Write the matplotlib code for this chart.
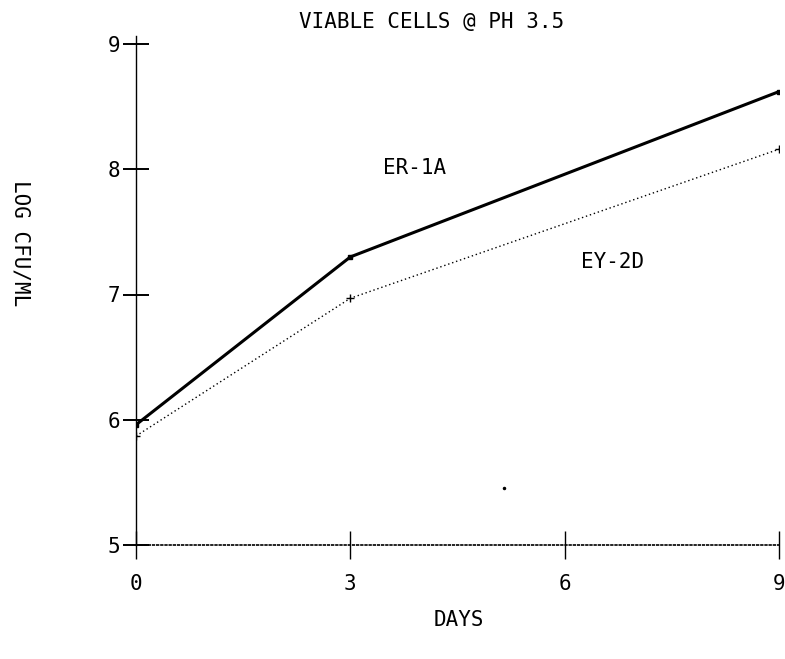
import numpy as np
import matplotlib
matplotlib.use('Agg')
import matplotlib.pyplot as plt


# --------------------------------- #

days = [0, 3, 9]
er_1a = [5.96, 7.30, 8.62]
ey_2d = [5.87, 6.97, 8.16]

x_ticks = [0, 3, 6, 9]
y_ticks = [5, 6, 7, 8, 9]

# --------------------------------- #

plt.rcParams['font.family'] = 'DejaVu Sans Mono'
font = dict(fontsize=15, color='black')

fig = plt.figure(figsize=(7.85, 6.59), dpi=100)
ax = fig.add_axes([136/785, 1-545/659, 643/785, 501/659])

ax.plot(days, er_1a, color='black', lw=2.2, marker='s', ms=3.5)
ax.plot(days, ey_2d, color='black', lw=1.0, ls=(0, (1, 2)), marker='+', ms=6)

# stray plotter dot
ax.plot([5.15], [5.455], marker='o', ms=1.5, color='black')

ax.text(3.9, 8.01, 'ER-1A', ha='center', va='center', **font)
ax.text(6.67, 7.26, 'EY-2D', ha='center', va='center', **font)

ax.set_xlim(0, 9)
ax.set_ylim(5, 9)
ax.set_xticks(x_ticks)
ax.set_yticks(y_ticks)
ax.set_xticklabels([str(t) for t in x_ticks], **font)
ax.set_yticklabels([str(t) for t in y_ticks], **font)

for s in ['top', 'right']:
    ax.spines[s].set_visible(False)
ax.spines['left'].set_linewidth(1.0)
ax.spines['bottom'].set_linewidth(1.2)
ax.spines['bottom'].set_linestyle((0, (1, 1.5)))
ax.spines['left'].set_bounds(5, 9.06)
ax.set_clip_on(False)

ax.tick_params(axis='y', direction='inout', length=19, width=1.4, pad=2)
ax.tick_params(axis='x', direction='inout', length=20, width=1.0, pad=11)

fig.text(432/785, 1-22/659, 'VIABLE CELLS @ PH 3.5', ha='center', va='center', **font)
fig.text(459/785, 1-620/659, 'DAYS', ha='center', va='center', **font)
fig.text(20/785, 1-243/659, 'LOG CFU/ML', rotation=-90, ha='center', va='center', **font)

fig.savefig('out.png', dpi=100)
